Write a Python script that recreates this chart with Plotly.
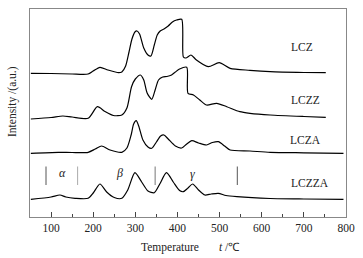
import plotly.graph_objects as go

# ---- data ----
lcz_t = [52, 100, 150, 188, 200, 216, 235, 260, 268, 277, 285, 292, 299, 304, 310, 320, 330, 337,
         345, 352, 359, 368, 378, 388, 398, 410, 414, 420, 432, 445, 473, 499, 525, 572, 620, 700, 752]
lcz_i = [143.7, 143.5, 143, 143, 146, 149.7, 147, 144.3, 145, 151, 165, 178, 185, 186, 183, 169, 162, 161,
         172, 182, 186, 188, 191, 195, 197, 197.7, 160, 159, 162, 157, 150.3, 154.3, 148.7, 146.7, 145.3, 144.5, 144.3]

lczz_t = [52, 100, 128, 150, 188, 210, 228, 248, 268, 280, 291, 300, 312, 320, 328, 339, 347, 355, 365,
          375, 386, 395, 405, 422, 425, 438, 453, 469, 493, 517, 548, 572, 620, 700, 752]
lczz_i = [98, 99.5, 101, 100, 98.7, 110.3, 105.5, 101.5, 102, 109, 130.3, 138, 142, 137, 124, 117.7, 127, 137, 140,
          140.5, 142, 145, 148, 149.7, 123.7, 122, 117, 112, 113.7, 110.3, 105.3, 103.7, 102, 100.5, 99.7]

lcza_t = [52, 117, 150, 188, 205, 220, 240, 268, 280, 290, 296, 302, 308, 318, 330, 339, 350, 360, 368,
          378, 395, 410, 422, 434, 450, 469, 483, 497, 512, 525, 572, 620, 700, 794]
lcza_i = [63.7, 64.7, 64.5, 64.7, 68, 71, 67, 64.7, 69, 82, 93, 96.3, 91, 77, 70, 68.7, 75, 81, 82,
          78, 71, 69, 73, 76.3, 74, 72, 74.5, 75.3, 71, 67, 66, 64.7, 64.2, 63.7]

lczza_t = [52, 100, 121, 135, 157, 188, 200, 216, 232, 250, 268, 282, 299, 315, 330, 345, 358, 374,
           390, 405, 414, 425, 436, 450, 465, 480, 497, 515, 541, 620, 700, 794]
lczza_i = [17.7, 20, 22, 20, 18.7, 18.7, 24, 33, 25, 19.5, 18.7, 27, 44.3, 35, 26, 24.3, 33, 44.3,
           35, 26.5, 25.3, 29, 33, 27, 22, 23, 23.7, 21.5, 20.3, 18.5, 18, 17.7]

series_names = ["LCZ", "LCZZ", "LCZA", "LCZZA"]
label_t = [696, 703, 703, 715]
label_i = [170, 117, 77, 34.3]

region_bounds = [88, 163, 347, 542]
region_bound_colors = ["#555555", "#aaaaaa", "#777777", "#555555"]
region_low, region_high = 32, 50.5
region_names = ["α", "β", "γ"]
region_label_t = [127, 262, 436]
region_label_i = [43.7, 43.7, 43]

x_ticks = [100, 200, 300, 400, 500, 600, 700, 800]

FONT = "Liberation Serif, Times New Roman, serif"
TXT = "#222"

fig = go.Figure()
for t, i in [(lcz_t, lcz_i), (lczz_t, lczz_i), (lcza_t, lcza_i), (lczza_t, lczza_i)]:
    fig.add_trace(go.Scatter(x=t, y=i, mode="lines",
                             line=dict(color="black", width=1.2, shape="spline", smoothing=0.7),
                             showlegend=False, hoverinfo="skip"))

for xb, c in zip(region_bounds, region_bound_colors):
    fig.add_trace(go.Scatter(x=[xb, xb], y=[region_low, region_high], mode="lines",
                             line=dict(color=c, width=1), showlegend=False, hoverinfo="skip"))

for name, t, i in zip(series_names, label_t, label_i):
    fig.add_annotation(x=t, y=i, xref="x", yref="y", text=name, showarrow=False,
                       xanchor="center", yanchor="middle",
                       font=dict(family=FONT, size=11.5, color=TXT))

for name, t, i in zip(region_names, region_label_t, region_label_i):
    fig.add_annotation(x=t, y=i, xref="x", yref="y", text="<i>" + name + "</i>", showarrow=False,
                       xanchor="center", yanchor="middle",
                       font=dict(family=FONT, size=12, color=TXT))

# axis titles as positioned annotations (pixel-based placement)
fig.add_annotation(x=(170 - 30) / 316, y=-(247 - 217) / 208, xref="paper", yref="paper",
                   xanchor="center", yanchor="middle",
                   text="Temperature", showarrow=False, font=dict(family=FONT, size=11.5, color=TXT))
fig.add_annotation(x=(229 - 30) / 316, y=-(247 - 217) / 208, xref="paper", yref="paper",
                   xanchor="center", yanchor="middle",
                   text="<i>t</i> /℃", showarrow=False, font=dict(family=FONT, size=11.5, color=TXT))
fig.add_annotation(x=-(30 - 12) / 316, y=(217 - 102) / 208, xref="paper", yref="paper",
                   xanchor="center", yanchor="middle",
                   text="Intensity /(a.u.)", textangle=-90, showarrow=False,
                   font=dict(family=FONT, size=11.5, color=TXT))

fig.update_layout(
    width=363, height=258,
    margin=dict(l=30, r=17, t=9, b=41, autoexpand=False),
    paper_bgcolor="white", plot_bgcolor="white",
    font=dict(family=FONT, size=11.5, color=TXT),
    xaxis=dict(range=[50, 800], tickvals=x_ticks, ticks="inside", ticklen=5, tickcolor="#444",
               tickwidth=1, showline=True, linecolor="#888", linewidth=1, mirror=True,
               showgrid=False, zeroline=False, automargin=False,
               minor=dict(dtick=50, tick0=50, ticks="inside", ticklen=3, tickcolor="#444", showgrid=False),
               tickfont=dict(family=FONT, size=11.5, color=TXT)),
    yaxis=dict(range=[0, 208], showticklabels=False, ticks="", showline=True, linecolor="#888",
               linewidth=1, mirror=True, showgrid=False, zeroline=False, automargin=False),
)

fig.write_html("out.html", config={"displayModeBar": False},
               post_script="document.body.style.margin='0';document.body.style.overflow='hidden';")
